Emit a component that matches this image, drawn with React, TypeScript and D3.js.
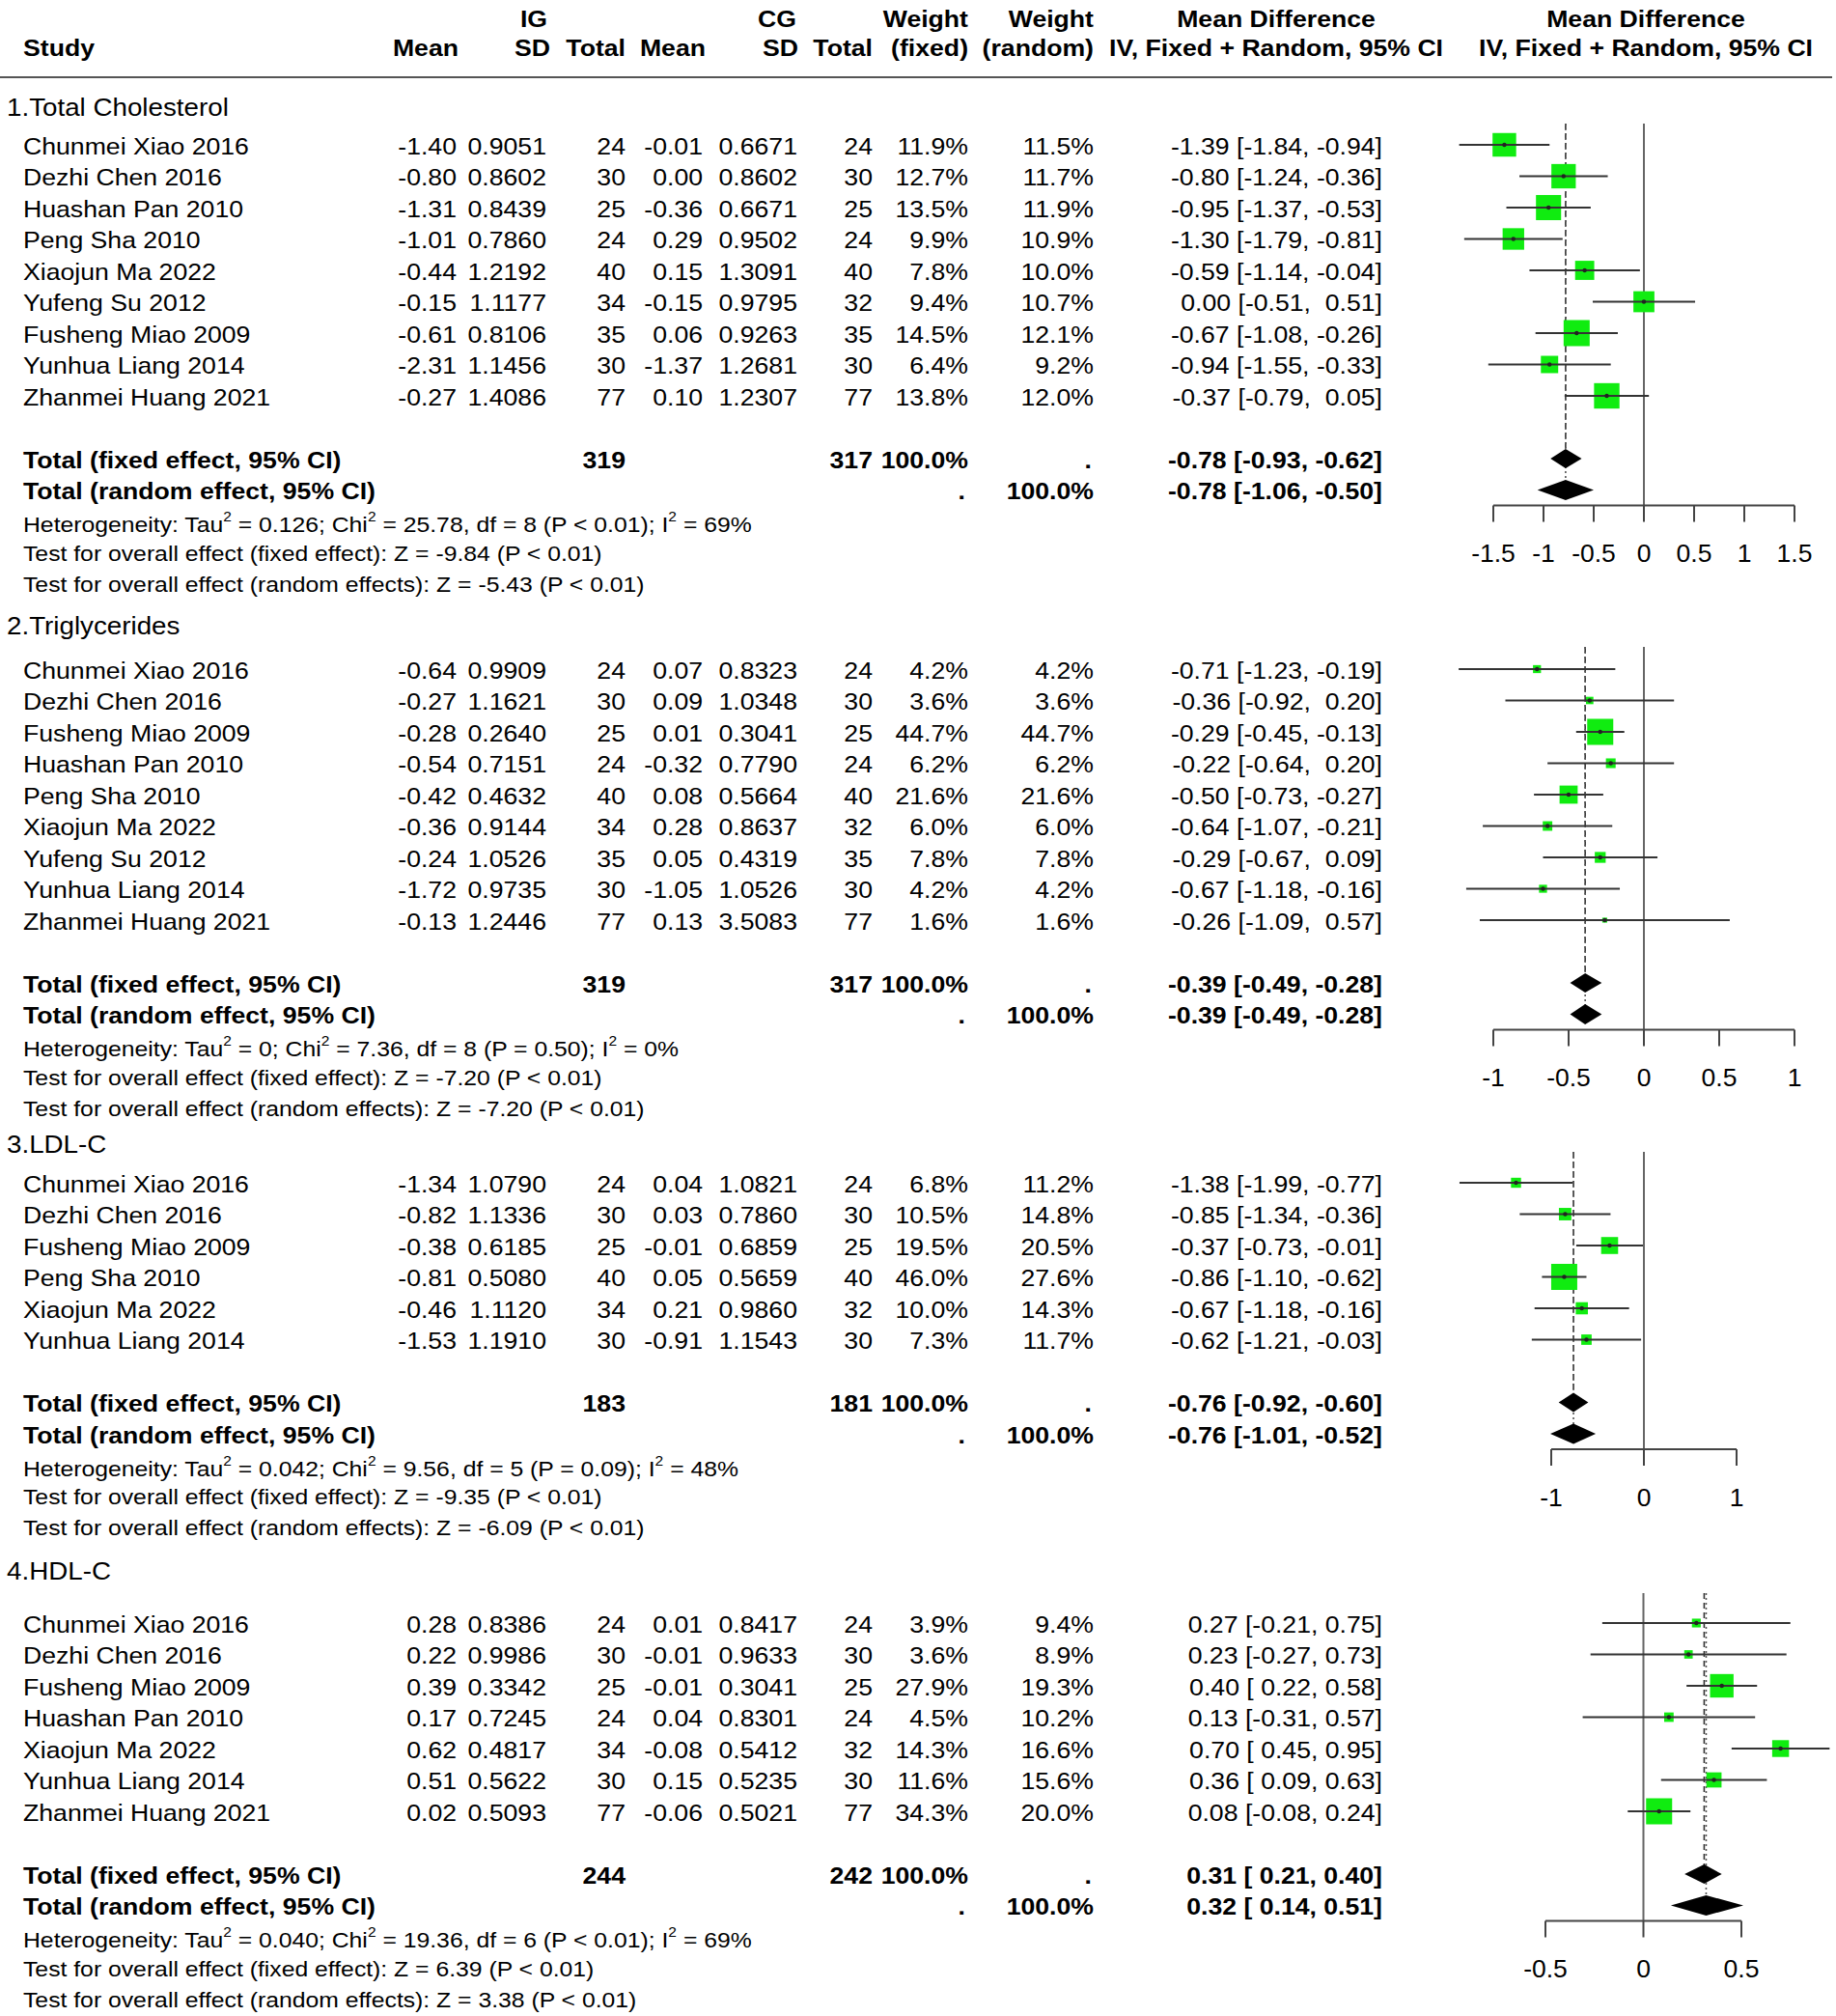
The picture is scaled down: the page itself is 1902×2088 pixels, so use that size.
import * as d3 from 'd3';
import React, { useEffect } from 'react';

// 1. Total Cholesterol
const studies1 = ['Chunmei Xiao 2016', 'Dezhi Chen 2016', 'Huashan Pan 2010', 'Peng Sha 2010', 'Xiaojun Ma 2022', 'Yufeng Su 2012', 'Fusheng Miao 2009', 'Yunhua Liang 2014', 'Zhanmei Huang 2021'];
const igMean1 = [-1.40, -0.80, -1.31, -1.01, -0.44, -0.15, -0.61, -2.31, -0.27];
const igSd1 = ['0.9051', '0.8602', '0.8439', '0.7860', '1.2192', '1.1177', '0.8106', '1.1456', '1.4086'];
const igN1 = [24, 30, 25, 24, 40, 34, 35, 30, 77];
const cgMean1 = [-0.01, 0.00, -0.36, 0.29, 0.15, -0.15, 0.06, -1.37, 0.10];
const cgSd1 = ['0.6671', '0.8602', '0.6671', '0.9502', '1.3091', '0.9795', '0.9263', '1.2681', '1.2307'];
const cgN1 = [24, 30, 25, 24, 40, 32, 35, 30, 77];
const wFixed1 = [11.9, 12.7, 13.5, 9.9, 7.8, 9.4, 14.5, 6.4, 13.8];
const wRandom1 = [11.5, 11.7, 11.9, 10.9, 10.0, 10.7, 12.1, 9.2, 12.0];
const md1 = [-1.39, -0.80, -0.95, -1.30, -0.59, 0.00, -0.67, -0.94, -0.37];
const lo1 = [-1.84, -1.24, -1.37, -1.79, -1.14, -0.51, -1.08, -1.55, -0.79];
const hi1 = [-0.94, -0.36, -0.53, -0.81, -0.04, 0.51, -0.26, -0.33, 0.05];
const total1 = [319, 317];
const fixed1 = [-0.78, -0.93, -0.62];
const random1 = [-0.78, -1.06, -0.50];
const het1 = 'Heterogeneity: Tau^2 = 0.126; Chi^2 = 25.78, df = 8 (P < 0.01); I^2 = 69%';
const testF1 = 'Test for overall effect (fixed effect): Z = -9.84 (P < 0.01)';
const testR1 = 'Test for overall effect (random effects): Z = -5.43 (P < 0.01)';
const ticks1 = [-1.5, -1, -0.5, 0, 0.5, 1, 1.5];

// 2. Triglycerides
const studies2 = ['Chunmei Xiao 2016', 'Dezhi Chen 2016', 'Fusheng Miao 2009', 'Huashan Pan 2010', 'Peng Sha 2010', 'Xiaojun Ma 2022', 'Yufeng Su 2012', 'Yunhua Liang 2014', 'Zhanmei Huang 2021'];
const igMean2 = [-0.64, -0.27, -0.28, -0.54, -0.42, -0.36, -0.24, -1.72, -0.13];
const igSd2 = ['0.9909', '1.1621', '0.2640', '0.7151', '0.4632', '0.9144', '1.0526', '0.9735', '1.2446'];
const igN2 = [24, 30, 25, 24, 40, 34, 35, 30, 77];
const cgMean2 = [0.07, 0.09, 0.01, -0.32, 0.08, 0.28, 0.05, -1.05, 0.13];
const cgSd2 = ['0.8323', '1.0348', '0.3041', '0.7790', '0.5664', '0.8637', '0.4319', '1.0526', '3.5083'];
const cgN2 = [24, 30, 25, 24, 40, 32, 35, 30, 77];
const wFixed2 = [4.2, 3.6, 44.7, 6.2, 21.6, 6.0, 7.8, 4.2, 1.6];
const wRandom2 = [4.2, 3.6, 44.7, 6.2, 21.6, 6.0, 7.8, 4.2, 1.6];
const md2 = [-0.71, -0.36, -0.29, -0.22, -0.50, -0.64, -0.29, -0.67, -0.26];
const lo2 = [-1.23, -0.92, -0.45, -0.64, -0.73, -1.07, -0.67, -1.18, -1.09];
const hi2 = [-0.19, 0.20, -0.13, 0.20, -0.27, -0.21, 0.09, -0.16, 0.57];
const total2 = [319, 317];
const fixed2 = [-0.39, -0.49, -0.28];
const random2 = [-0.39, -0.49, -0.28];
const het2 = 'Heterogeneity: Tau^2 = 0; Chi^2 = 7.36, df = 8 (P = 0.50); I^2 = 0%';
const testF2 = 'Test for overall effect (fixed effect): Z = -7.20 (P < 0.01)';
const testR2 = 'Test for overall effect (random effects): Z = -7.20 (P < 0.01)';
const ticks2 = [-1, -0.5, 0, 0.5, 1];

// 3. LDL-C
const studies3 = ['Chunmei Xiao 2016', 'Dezhi Chen 2016', 'Fusheng Miao 2009', 'Peng Sha 2010', 'Xiaojun Ma 2022', 'Yunhua Liang 2014'];
const igMean3 = [-1.34, -0.82, -0.38, -0.81, -0.46, -1.53];
const igSd3 = ['1.0790', '1.1336', '0.6185', '0.5080', '1.1120', '1.1910'];
const igN3 = [24, 30, 25, 40, 34, 30];
const cgMean3 = [0.04, 0.03, -0.01, 0.05, 0.21, -0.91];
const cgSd3 = ['1.0821', '0.7860', '0.6859', '0.5659', '0.9860', '1.1543'];
const cgN3 = [24, 30, 25, 40, 32, 30];
const wFixed3 = [6.8, 10.5, 19.5, 46.0, 10.0, 7.3];
const wRandom3 = [11.2, 14.8, 20.5, 27.6, 14.3, 11.7];
const md3 = [-1.38, -0.85, -0.37, -0.86, -0.67, -0.62];
const lo3 = [-1.99, -1.34, -0.73, -1.10, -1.18, -1.21];
const hi3 = [-0.77, -0.36, -0.01, -0.62, -0.16, -0.03];
const total3 = [183, 181];
const fixed3 = [-0.76, -0.92, -0.60];
const random3 = [-0.76, -1.01, -0.52];
const het3 = 'Heterogeneity: Tau^2 = 0.042; Chi^2 = 9.56, df = 5 (P = 0.09); I^2 = 48%';
const testF3 = 'Test for overall effect (fixed effect): Z = -9.35 (P < 0.01)';
const testR3 = 'Test for overall effect (random effects): Z = -6.09 (P < 0.01)';
const ticks3 = [-1, 0, 1];

// 4. HDL-C
const studies4 = ['Chunmei Xiao 2016', 'Dezhi Chen 2016', 'Fusheng Miao 2009', 'Huashan Pan 2010', 'Xiaojun Ma 2022', 'Yunhua Liang 2014', 'Zhanmei Huang 2021'];
const igMean4 = [0.28, 0.22, 0.39, 0.17, 0.62, 0.51, 0.02];
const igSd4 = ['0.8386', '0.9986', '0.3342', '0.7245', '0.4817', '0.5622', '0.5093'];
const igN4 = [24, 30, 25, 24, 34, 30, 77];
const cgMean4 = [0.01, -0.01, -0.01, 0.04, -0.08, 0.15, -0.06];
const cgSd4 = ['0.8417', '0.9633', '0.3041', '0.8301', '0.5412', '0.5235', '0.5021'];
const cgN4 = [24, 30, 25, 24, 32, 30, 77];
const wFixed4 = [3.9, 3.6, 27.9, 4.5, 14.3, 11.6, 34.3];
const wRandom4 = [9.4, 8.9, 19.3, 10.2, 16.6, 15.6, 20.0];
const md4 = [0.27, 0.23, 0.40, 0.13, 0.70, 0.36, 0.08];
const lo4 = [-0.21, -0.27, 0.22, -0.31, 0.45, 0.09, -0.08];
const hi4 = [0.75, 0.73, 0.58, 0.57, 0.95, 0.63, 0.24];
const total4 = [244, 242];
const fixed4 = [0.31, 0.21, 0.40];
const random4 = [0.32, 0.14, 0.51];
const het4 = 'Heterogeneity: Tau^2 = 0.040; Chi^2 = 19.36, df = 6 (P < 0.01); I^2 = 69%';
const testF4 = 'Test for overall effect (fixed effect): Z = 6.39 (P < 0.01)';
const testR4 = 'Test for overall effect (random effects): Z = 3.38 (P < 0.01)';
const ticks4 = [-0.5, 0, 0.5];

const sections = [
  { title: '1.Total Cholesterol', studies: studies1, igMean: igMean1, igSd: igSd1, igN: igN1, cgMean: cgMean1, cgSd: cgSd1, cgN: cgN1, wF: wFixed1, wR: wRandom1, md: md1, lo: lo1, hi: hi1, total: total1, fixed: fixed1, random: random1, het: het1, testF: testF1, testR: testR1, ticks: ticks1 },
  { title: '2.Triglycerides', studies: studies2, igMean: igMean2, igSd: igSd2, igN: igN2, cgMean: cgMean2, cgSd: cgSd2, cgN: cgN2, wF: wFixed2, wR: wRandom2, md: md2, lo: lo2, hi: hi2, total: total2, fixed: fixed2, random: random2, het: het2, testF: testF2, testR: testR2, ticks: ticks2 },
  { title: '3.LDL-C', studies: studies3, igMean: igMean3, igSd: igSd3, igN: igN3, cgMean: cgMean3, cgSd: cgSd3, cgN: cgN3, wF: wFixed3, wR: wRandom3, md: md3, lo: lo3, hi: hi3, total: total3, fixed: fixed3, random: random3, het: het3, testF: testF3, testR: testR3, ticks: ticks3 },
  { title: '4.HDL-C', studies: studies4, igMean: igMean4, igSd: igSd4, igN: igN4, cgMean: cgMean4, cgSd: cgSd4, cgN: cgN4, wF: wFixed4, wR: wRandom4, md: md4, lo: lo4, hi: hi4, total: total4, fixed: fixed4, random: random4, het: het4, testF: testF4, testR: testR4, ticks: ticks4 },
];

// page layout (pixels)
const layout = [
  { titleY: 111, row0: 151, top: 128, range: [1547, 1859] },
  { titleY: 648, row0: 694, top: 670, range: [1547, 1859] },
  { titleY: 1185, row0: 1226, top: 1193, range: [1607, 1799] },
  { titleY: 1627, row0: 1682, top: 1650, range: [1601, 1804] },
];
const col = { igMean: 473, igSd: 566, igN: 648, cgMean: 728, cgSd: 826, cgN: 904, wF: 1003, wR: 1133, ci: 1432 };
const STEP = 32.5;
const FONT = '"Liberation Sans", Arial, Helvetica, sans-serif';
const SX = 1.11;
const FS = 24;
const GREEN = '#10ec10';

export default function App() {
  const ref = React.useRef<SVGSVGElement>(null);

  useEffect(() => {
    document.body.style.margin = '0';
    if (!ref.current) return;
    const svg = d3.select(ref.current);
    svg.selectAll('*').remove();
    svg.append('rect').attr('width', 1902).attr('height', 2088).attr('fill', '#fff');

    const txt = (x: number, y: number, s: string, o: any = {}) =>
      svg
        .append('text')
        .attr('transform', `translate(${x},${y}) scale(${o.sx ?? SX},1)`)
        .attr('text-anchor', o.anchor ?? 'end')
        .attr('dominant-baseline', 'central')
        .attr('font-family', FONT)
        .attr('font-size', o.size ?? FS)
        .attr('font-weight', o.bold ? 'bold' : 'normal')
        .attr('fill', '#000')
        .style('white-space', 'pre')
        .text(s);

    // header
    const h1 = 19;
    const h2 = 49;
    const hb = { bold: true };
    txt(553, h1, 'IG', { ...hb, anchor: 'middle' });
    txt(805, h1, 'CG', { ...hb, anchor: 'middle' });
    txt(1003, h1, 'Weight', hb);
    txt(1133, h1, 'Weight', hb);
    txt(1322, h1, 'Mean Difference', { ...hb, anchor: 'middle' });
    txt(1705, h1, 'Mean Difference', { ...hb, anchor: 'middle' });
    txt(24, h2, 'Study', { ...hb, anchor: 'start' });
    txt(475, h2, 'Mean', hb);
    txt(570, h2, 'SD', hb);
    txt(648, h2, 'Total', hb);
    txt(731, h2, 'Mean', hb);
    txt(827, h2, 'SD', hb);
    txt(904, h2, 'Total', hb);
    txt(1003, h2, '(fixed)', hb);
    txt(1133, h2, '(random)', hb);
    txt(1322, h2, 'IV, Fixed + Random, 95% CI', { ...hb, anchor: 'middle' });
    txt(1705, h2, 'IV, Fixed + Random, 95% CI', { ...hb, anchor: 'middle' });
    svg.append('line').attr('x1', 0).attr('x2', 1898).attr('y1', 80).attr('y2', 80)
      .attr('stroke', '#555').attr('stroke-width', 2);

    // plain hyphen minus, as in the original output
    const f2 = (v: number) => v.toFixed(2);
    const pad = (arr: number[]) => {
      const neg = arr.some(v => v < 0);
      return (v: number) => (neg && v >= 0 ? ' ' : '') + f2(v);
    };

    sections.forEach((s, si) => {
      const L = layout[si];
      const n = s.studies.length;
      const rowY = (i: number) => L.row0 + i * STEP;
      const yFixed = rowY(n + 1);
      const yRandom = yFixed + STEP;
      const yHet = yRandom + 35;
      const yTF = yHet + 29.5;
      const yTR = yTF + 32;
      const yAxis = yRandom + 15;

      txt(7, L.titleY, s.title, { anchor: 'start', size: 25 });

      const padLo = pad([...s.lo, s.fixed[1], s.random[1]]);
      const padHi = pad([...s.hi, s.fixed[2], s.random[2]]);
      const ci = (m: number, l: number, h: number) => `${f2(m)} [${padLo(l)}, ${padHi(h)}]`;

      s.studies.forEach((name, i) => {
        const y = rowY(i);
        txt(24, y, name, { anchor: 'start' });
        txt(col.igMean, y, f2(s.igMean[i]));
        txt(col.igSd, y, s.igSd[i]);
        txt(col.igN, y, String(s.igN[i]));
        txt(col.cgMean, y, f2(s.cgMean[i]));
        txt(col.cgSd, y, s.cgSd[i]);
        txt(col.cgN, y, String(s.cgN[i]));
        txt(col.wF, y, s.wF[i].toFixed(1) + '%');
        txt(col.wR, y, s.wR[i].toFixed(1) + '%');
        txt(col.ci, y, ci(s.md[i], s.lo[i], s.hi[i]));
      });

      const b = { bold: true };
      txt(24, yFixed, 'Total (fixed effect, 95% CI)', { ...b, anchor: 'start' });
      txt(col.igN, yFixed, String(s.total[0]), b);
      txt(col.cgN, yFixed, String(s.total[1]), b);
      txt(col.wF, yFixed, '100.0%', b);
      txt(col.wR - 2, yFixed, '.', b);
      txt(col.ci, yFixed, ci(s.fixed[0], s.fixed[1], s.fixed[2]), b);
      txt(24, yRandom, 'Total (random effect, 95% CI)', { ...b, anchor: 'start' });
      txt(col.wF - 3, yRandom, '.', b);
      txt(col.wR, yRandom, '100.0%', b);
      txt(col.ci, yRandom, ci(s.random[0], s.random[1], s.random[2]), b);

      // heterogeneity line with superscripts
      const het = svg
        .append('text')
        .attr('transform', `translate(24,${yHet}) scale(${SX},1)`)
        .attr('dominant-baseline', 'central')
        .attr('font-family', FONT)
        .attr('font-size', 22.3)
        .attr('fill', '#000');
      s.het.split('^2').forEach((part, k, all) => {
        het.append('tspan').attr('dy', k === 0 ? 0 : 8).text(part);
        if (k < all.length - 1) het.append('tspan').attr('dy', -8).attr('font-size', 14).text('2');
      });
      txt(24, yTF, s.testF, { anchor: 'start', size: 22.3 });
      txt(24, yTR, s.testR, { anchor: 'start', size: 22.3 });

      // forest panel
      const x = d3.scaleLinear().domain([s.ticks[0], s.ticks[s.ticks.length - 1]]).range(L.range);
      const g = svg.append('g');
      const wMax = d3.max(s.wF) ?? 1;
      const side = d3.scaleSqrt().domain([0, wMax]).range([0, 27]);

      // zero line
      g.append('line').attr('x1', x(0)).attr('x2', x(0)).attr('y1', L.top).attr('y2', yAxis)
        .attr('stroke', '#666').attr('stroke-width', 2);
      // pooled estimate lines
      g.append('line').attr('x1', x(s.fixed[0])).attr('x2', x(s.fixed[0])).attr('y1', L.top).attr('y2', yFixed - 10)
        .attr('stroke', '#333').attr('stroke-width', 1.6).attr('stroke-dasharray', '6,4');
      g.append('line').attr('x1', x(s.random[0])).attr('x2', x(s.random[0])).attr('y1', L.top).attr('y2', yRandom - 10)
        .attr('stroke', '#555').attr('stroke-width', 1.6).attr('stroke-dasharray', '2,3');

      s.studies.forEach((_, i) => {
        const y = rowY(i) - 1;
        const sz = side(s.wF[i]);
        g.append('rect').attr('x', x(s.md[i]) - sz / 2).attr('y', y - sz / 2)
          .attr('width', sz).attr('height', sz).attr('fill', GREEN);
        g.append('line').attr('x1', x(s.lo[i])).attr('x2', x(s.hi[i])).attr('y1', y).attr('y2', y)
          .attr('stroke', '#333').attr('stroke-width', 2);
        g.append('circle').attr('cx', x(s.md[i])).attr('cy', y).attr('r', 2.2).attr('fill', '#222');
      });

      const diamond = (est: number[], y: number, hh: number) =>
        g.append('path')
          .attr('d', `M${x(est[1])},${y}L${x(est[0])},${y - hh}L${x(est[2])},${y}L${x(est[0])},${y + hh}Z`)
          .attr('fill', '#000');
      diamond(s.fixed, yFixed - 1, 10);
      diamond(s.random, yRandom - 1, 10.5);

      // axis
      const [r0, r1] = L.range;
      g.append('line').attr('x1', r0).attr('x2', r1).attr('y1', yAxis).attr('y2', yAxis)
        .attr('stroke', '#444').attr('stroke-width', 2);
      s.ticks.forEach(t => {
        g.append('line').attr('x1', x(t)).attr('x2', x(t)).attr('y1', yAxis).attr('y2', yAxis + 17)
          .attr('stroke', '#444').attr('stroke-width', 2);
        txt(x(t), yAxis + 50, String(t), { anchor: 'middle', size: 26, sx: 1.02 });
      });
    });
  }, []);

  return <svg ref={ref} width={1902} height={2088} style={{ display: 'block' }} />;
}
